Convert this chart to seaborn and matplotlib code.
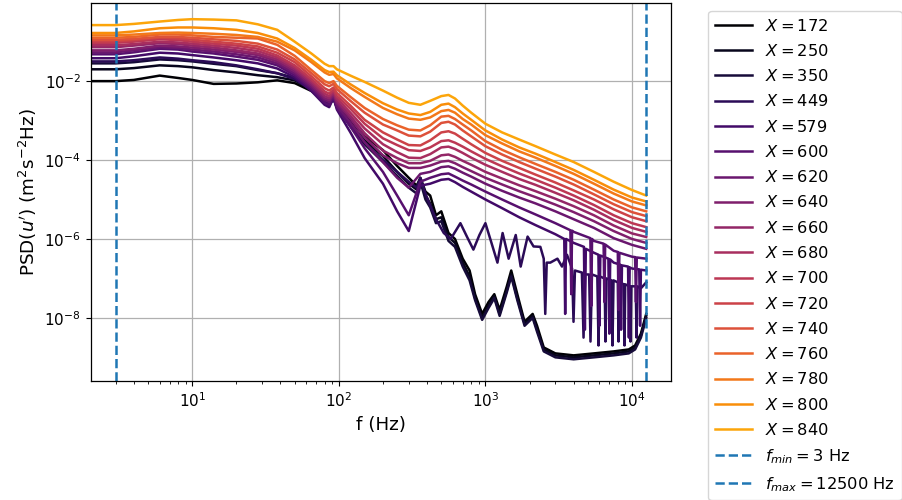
import numpy as np
import pandas as pd
import matplotlib
matplotlib.use("Agg")
import matplotlib.pyplot as plt
import seaborn as sns

# ---------------- data (log10 PSD) ----------------
X_VALUES = [172, 250, 350, 449, 579, 600, 620, 640, 660, 680, 700, 720, 740, 760, 780, 800, 840]

F = [2.0, 3, 4, 6, 8, 10, 14, 20, 28, 38,
     50, 65, 80, 86, 92, 97, 120, 150, 200, 250,
     300, 360, 420, 500, 560, 620, 700, 800, 1000, 1300,
     1700, 2200, 3000, 4000, 5500, 7500, 10000, 12500]

P840 = [-0.58, -0.58, -0.55, -0.49, -0.45, -0.43, -0.44, -0.46, -0.56, -0.70,
        -1.00, -1.30, -1.56, -1.62, -1.62, -1.70, -1.86, -2.02, -2.24, -2.42,
        -2.55, -2.60, -2.50, -2.38, -2.35, -2.44, -2.62, -2.80, -3.08, -3.30,
        -3.48, -3.65, -3.86, -4.05, -4.30, -4.55, -4.76, -4.90]
P800 = [-0.78, -0.78, -0.74, -0.66, -0.64, -0.64, -0.66, -0.70, -0.78, -0.92,
        -1.16, -1.46, -1.72, -1.77, -1.76, -1.85, -2.08, -2.30, -2.56, -2.72,
        -2.82, -2.86, -2.78, -2.60, -2.57, -2.66, -2.82, -2.98, -3.25, -3.48,
        -3.68, -3.84, -4.05, -4.25, -4.50, -4.75, -4.95, -5.05]
P780 = [-0.84, -0.84, -0.82, -0.78, -0.77, -0.78, -0.80, -0.83, -0.88, -1.00,
        -1.22, -1.52, -1.78, -1.84, -1.82, -1.93, -2.17, -2.40, -2.68, -2.84,
        -2.95, -2.98, -2.92, -2.76, -2.73, -2.80, -2.96, -3.10, -3.37, -3.58,
        -3.78, -3.94, -4.15, -4.35, -4.60, -4.85, -5.05, -5.15]
P760 = [-0.90, -0.90, -0.88, -0.82, -0.82, -0.84, -0.88, -0.90, -0.92, -1.08,
        -1.36, -1.72, -2.00, -2.05, -2.00, -2.12, -2.40, -2.68, -2.96, -3.12,
        -3.23, -3.25, -3.12, -2.90, -2.88, -2.96, -3.10, -3.25, -3.52, -3.74,
        -3.93, -4.10, -4.30, -4.50, -4.75, -5.00, -5.20, -5.30]
P740 = [-0.95, -0.95, -0.93, -0.88, -0.88, -0.90, -0.94, -0.98, -1.05, -1.20,
        -1.45, -1.80, -2.08, -2.13, -2.07, -2.20, -2.50, -2.80, -3.10, -3.25,
        -3.38, -3.40, -3.28, -3.06, -3.03, -3.10, -3.25, -3.40, -3.65, -3.86,
        -4.05, -4.22, -4.42, -4.62, -4.87, -5.12, -5.32, -5.42]
P720 = [-0.99, -0.99, -0.96, -0.90, -0.92, -0.95, -1.00, -1.05, -1.12, -1.28,
        -1.52, -1.88, -2.18, -2.24, -2.16, -2.30, -2.62, -2.98, -3.30, -3.48,
        -3.62, -3.63, -3.50, -3.30, -3.27, -3.33, -3.46, -3.60, -3.82, -4.02,
        -4.20, -4.37, -4.57, -4.77, -5.00, -5.25, -5.45, -5.55]
P700 = [-1.03, -1.03, -1.00, -0.94, -0.96, -1.00, -1.05, -1.10, -1.18, -1.35,
        -1.60, -1.95, -2.26, -2.32, -2.22, -2.38, -2.70, -3.08, -3.45, -3.62,
        -3.75, -3.77, -3.68, -3.52, -3.50, -3.56, -3.66, -3.78, -3.97, -4.16,
        -4.34, -4.50, -4.70, -4.90, -5.14, -5.40, -5.60, -5.70]
P680 = [-1.09, -1.09, -1.06, -1.00, -1.02, -1.05, -1.10, -1.16, -1.24, -1.40,
        -1.65, -2.00, -2.32, -2.38, -2.26, -2.44, -2.80, -3.20, -3.60, -3.80,
        -3.94, -3.95, -3.85, -3.68, -3.66, -3.72, -3.82, -3.94, -4.12, -4.30,
        -4.48, -4.63, -4.83, -5.02, -5.26, -5.52, -5.72, -5.82]
P660 = [-1.14, -1.14, -1.10, -1.04, -1.06, -1.10, -1.15, -1.22, -1.30, -1.45,
        -1.70, -2.05, -2.38, -2.43, -2.30, -2.50, -2.88, -3.32, -3.76, -3.95,
        -4.08, -4.08, -4.02, -3.88, -3.86, -3.92, -4.02, -4.12, -4.30, -4.47,
        -4.64, -4.79, -4.98, -5.17, -5.40, -5.66, -5.86, -5.95]
P640 = [-1.22, -1.22, -1.18, -1.10, -1.12, -1.15, -1.20, -1.26, -1.34, -1.50,
        -1.75, -2.10, -2.43, -2.48, -2.34, -2.55, -2.95, -3.42, -3.88, -4.08,
        -4.20, -4.20, -4.14, -4.04, -4.02, -4.08, -4.18, -4.28, -4.45, -4.62,
        -4.79, -4.94, -5.13, -5.32, -5.55, -5.80, -6.00, -6.10]
P620 = [-1.27, -1.27, -1.22, -1.14, -1.16, -1.20, -1.25, -1.32, -1.40, -1.55,
        -1.80, -2.15, -2.48, -2.53, -2.38, -2.62, -3.05, -3.55, -4.05, -4.45,
        -4.70, -4.35, -4.30, -4.18, -4.16, -4.22, -4.32, -4.42, -4.60, -4.78,
        -4.95, -5.10, -5.30, -5.50, -5.72, -5.98, -6.15, -6.25]
P600 = [-1.32, -1.32, -1.27, -1.18, -1.20, -1.25, -1.30, -1.38, -1.46, -1.60,
        -1.85, -2.20, -2.55, -2.60, -2.40, -2.68, -3.15, -3.70, -4.30, -4.90,
        -5.40, -4.55, -4.45, -4.36, -4.34, -4.42, -4.52, -4.62, -4.80, -5.00,
        -5.20, -5.38, -5.60, -5.82, -6.05, -6.30, -6.45, -6.50]
P579 = [-1.42, -1.42, -1.37, -1.28, -1.30, -1.34, -1.40, -1.47, -1.55, -1.68,
        -1.90, -2.25, -2.60, -2.66, -2.42, -2.72, -3.30, -3.95, -4.60, -5.30,
        -5.80, -4.65, -4.60, -4.50, -4.48, -4.56, -4.68, -4.80, -5.00, -5.22,
        -5.45, -5.65, -5.88, -6.10, -6.35, -6.60, -6.75, -6.80]

# narrow drop-outs at high frequency
S600_F = [3800, 3850, 3900, 5200, 5270, 5340, 6400, 6480, 6560, 8000, 8100, 8200, 10500, 10640, 10780]
S600_P = [-5.78, -7.40, -5.79, -5.98, -7.70, -6.00, -6.12, -7.60, -6.14, -6.33, -7.80, -6.35, -6.46, -7.60, -6.47]
S579_F = [3450, 3500, 3550, 4700, 4770, 4840, 5900, 5990, 6080, 6900, 7000, 7100,
          8300, 8420, 8540, 9400, 9520, 9640, 11200, 11350, 11500]
S579_P = [-6.00, -7.90, -6.00, -6.20, -8.30, -6.25, -6.40, -8.20, -6.42, -6.50, -8.40, -6.52,
          -6.65, -8.30, -6.67, -6.70, -8.50, -6.72, -6.77, -8.20, -6.78]

F449 = [2.0, 3, 4, 6, 8, 10, 14, 20, 28, 38,
        50, 65, 80, 86, 92, 97, 120, 150, 200, 250,
        300, 340, 360, 390, 420, 460, 520, 580, 675, 750,
        828, 910, 1000, 1100, 1208, 1310, 1440, 1610, 1740, 1940,
        2130, 2370, 2500, 2560, 2620, 2770, 3100, 3330, 3600, 3900,
        3990, 4080, 4550, 4670, 4790, 5100, 5210, 5330, 5800, 5910,
        6020, 6500, 6590, 6690, 7250, 7360, 7480, 8000, 8090, 8200,
        8800, 8890, 8990, 9650, 9770, 9890, 10600, 10740, 10880, 11500,
        12500]
P449 = [-1.50, -1.50, -1.47, -1.40, -1.43, -1.47, -1.52, -1.60, -1.70, -1.80,
        -1.95, -2.22, -2.50, -2.60, -2.42, -2.66, -3.10, -3.55, -4.00, -4.30,
        -4.55, -4.70, -4.45, -4.85, -5.15, -5.50, -5.85, -6.00, -5.60, -5.95,
        -6.27, -5.90, -5.60, -6.10, -6.60, -5.85, -6.50, -5.90, -6.70, -5.94,
        -6.19, -6.20, -6.50, -7.90, -6.60, -6.60, -6.50, -6.70, -6.40, -6.75,
        -8.10, -6.80, -6.85, -8.50, -6.90, -6.90, -8.60, -6.90, -6.95, -8.70,
        -6.95, -7.00, -8.60, -7.00, -7.05, -8.70, -7.05, -7.10, -8.60, -7.10,
        -7.15, -8.70, -7.15, -7.20, -8.60, -7.20, -7.20, -8.50, -7.20, -7.25,
        -7.10]

F_DARK = [2.0, 3, 4, 6, 8, 10, 14, 20, 28, 38,
          50, 65, 80, 86, 92, 97, 120, 150, 200, 250,
          300, 340, 360, 390, 420, 460, 500, 560, 620, 700,
          780, 850, 950, 1050, 1150, 1250, 1400, 1500, 1650, 1850,
          2100, 2250, 2500, 3000, 4000, 5500, 7500, 9500, 10500, 11500, 12500]
P350 = [-1.55, -1.55, -1.52, -1.45, -1.47, -1.50, -1.56, -1.62, -1.72, -1.80,
        -1.92, -2.20, -2.50, -2.60, -2.43, -2.66, -3.15, -3.60, -4.05, -4.40,
        -4.70, -4.85, -4.55, -5.00, -5.20, -5.60, -5.55, -6.05, -6.20, -6.70,
        -7.05, -7.55, -8.05, -7.75, -7.50, -7.95, -7.35, -6.95, -7.55, -8.20,
        -8.00, -8.35, -8.85, -9.00, -9.05, -9.00, -8.95, -8.90, -8.80, -8.50, -8.00]
P250 = [-1.70, -1.70, -1.67, -1.60, -1.62, -1.65, -1.72, -1.78, -1.85, -1.90,
        -1.98, -2.22, -2.50, -2.60, -2.44, -2.66, -3.10, -3.50, -3.90, -4.30,
        -4.60, -4.75, -4.50, -4.90, -5.10, -5.50, -5.45, -5.95, -6.10, -6.60,
        -6.95, -7.50, -8.00, -7.70, -7.45, -7.90, -7.30, -6.90, -7.50, -8.15,
        -7.95, -8.30, -8.80, -8.95, -9.00, -8.95, -8.90, -8.85, -8.75, -8.45, -7.95]
P172 = [-2.00, -2.00, -1.97, -1.86, -1.92, -1.97, -2.07, -2.06, -2.03, -1.98,
        -2.05, -2.25, -2.50, -2.58, -2.45, -2.62, -3.00, -3.40, -3.75, -4.15,
        -4.45, -4.65, -4.45, -4.80, -4.90, -5.40, -5.30, -5.85, -6.00, -6.50,
        -6.80, -7.40, -7.90, -7.60, -7.40, -7.80, -7.20, -6.80, -7.40, -8.10,
        -7.90, -8.20, -8.75, -8.90, -8.95, -8.90, -8.85, -8.80, -8.70, -8.40, -7.90]

F_MIN = 3
F_MAX = 12500
Y_TICKS = [1e-8, 1e-6, 1e-4, 1e-2]

# ---------------- build table ----------------
series = {
    172: (F_DARK, P172), 250: (F_DARK, P250), 350: (F_DARK, P350), 449: (F449, P449),
    579: (F + S579_F, P579 + S579_P), 600: (F + S600_F, P600 + S600_P),
    620: (F, P620), 640: (F, P640), 660: (F, P660), 680: (F, P680), 700: (F, P700),
    720: (F, P720), 740: (F, P740), 760: (F, P760), 780: (F, P780), 800: (F, P800),
    840: (F, P840),
}
frames = []
for xv in X_VALUES:
    fs, ps = series[xv]
    d = pd.DataFrame({"f": fs, "logp": ps})
    d = d.sort_values("f")
    d["psd"] = 10.0 ** d["logp"]
    d["label"] = f"$X = {xv}$"
    frames.append(d)
df = pd.concat(frames, ignore_index=True)
labels = [f"$X = {xv}$" for xv in X_VALUES]

cmap = plt.get_cmap("inferno")
colors = [cmap(v) for v in np.linspace(0, 0.8, len(X_VALUES))]

# ---------------- plot ----------------
plt.rcParams["font.size"] = 11
plt.rcParams["xtick.major.size"] = 3.9
plt.rcParams["ytick.major.size"] = 3.9
plt.rcParams["xtick.minor.size"] = 2.2
plt.rcParams["ytick.minor.size"] = 2.2
plt.rcParams["axes.linewidth"] = 0.9
fig = plt.figure(figsize=(9.02, 5.0), dpi=100)
ax = fig.add_axes([0.1009, 0.238, 0.6432, 0.756])

sns.lineplot(data=df, x="f", y="psd", hue="label", hue_order=labels,
             palette=colors, estimator=None, sort=False, linewidth=1.8,
             legend=False, ax=ax)
curve_lines = list(ax.get_lines())
for ln, lab in zip(curve_lines, labels):
    ln.set_label(lab)

v1 = ax.axvline(F_MIN, color="#1f77b4", ls="--", lw=1.8, label=r"$f_{min} = 3$ Hz")
v2 = ax.axvline(F_MAX, color="#1f77b4", ls="--", lw=1.8, label=r"$f_{max} = 12500$ Hz")

ax.set_xscale("log")
ax.set_yscale("log")
ax.set_xlim(2.04, 18500)
ax.set_ylim(10 ** -9.6, 10 ** -0.02)
ax.set_yticks(Y_TICKS)
ax.yaxis.set_minor_locator(matplotlib.ticker.NullLocator())
ax.grid(True, which="major", color="#b0b0b0", lw=0.9)
ax.set_xlabel("f (Hz)", fontsize=13.2)
ax.set_ylabel(r"PSD($u'$) (m$^2$s$^{-2}$Hz)", fontsize=13.2)

ax.legend(handles=curve_lines + [v1, v2], loc="upper left",
          bbox_to_anchor=(1.05, 1.0), fontsize=11.7, handlelength=2.3,
          labelspacing=0.57)

fig.savefig("out.png", dpi=100)
